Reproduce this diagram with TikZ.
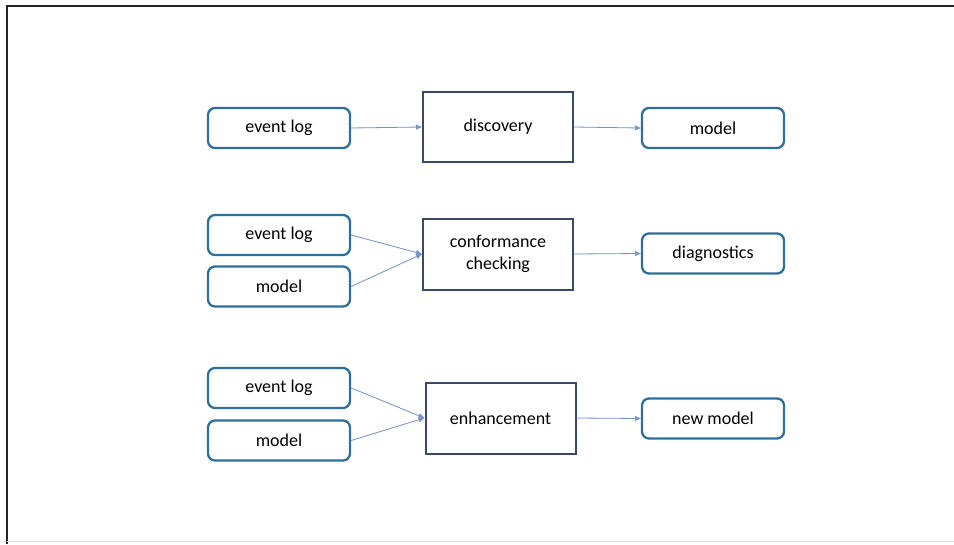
\documentclass[tikz,border=0pt]{standalone}
\usepackage{fontspec}
\setmainfont{Carlito}
\usetikzlibrary{arrows.meta,positioning}
\definecolor{edgeblue}{RGB}{47,111,154}
\definecolor{procgray}{RGB}{59,72,104}
\definecolor{flowblue}{RGB}{120,148,200}

\tikzset{
  databox/.style={draw=edgeblue, line width=2.3pt, rounded corners=7pt, minimum width=142pt, minimum height=40pt, inner sep=0pt, font=\fontsize{18}{22}\selectfont},
  procbox/.style={draw=procgray, line width=2pt, minimum width=150pt, minimum height=70pt, inner sep=0pt, align=center, font=\fontsize{18}{22}\selectfont},
  flow/.style={-{Triangle[length=6pt,width=5pt]}, draw=flowblue, fill=flowblue, line width=0.8pt}
}

\begin{document}
\begin{tikzpicture}[x=1pt,y=-1pt]
  \useasboundingbox (0,0) rectangle (954,544);
  % frame
  \draw[black!85, line width=2pt] (7,544) -- (7,6) -- (954,6);
  \draw[black!12, line width=1pt] (7,541) -- (954,541);

  % discovery
  \node[databox] (log1) at (279,128) {event log};
  \node[procbox] (disc) at (498,127) {discovery};
  \node[databox] (mod1) at (713,128) {model};
  \draw[flow] (log1.east) -- (disc.west);
  \draw[flow] (disc.east) -- (mod1.west);

  % conformance checking
  \node[databox] (log2) at (279,235) {event log};
  \node[databox] (mod2) at (279,286.5) {model};
  \node[procbox, minimum height=71pt] (conf) at (498,254) {conformance\\checking};
  \node[databox] (diag) at (713,253.5) {diagnostics};
  \draw[flow] (log2.east) -- (conf.west);
  \draw[flow] (mod2.east) -- (conf.west);
  \draw[flow] (conf.east) -- (diag.west);

  % enhancement
  \node[databox] (log3) at (279,388) {event log};
  \node[databox] (mod3) at (279,440.5) {model};
  \node[procbox, minimum height=71pt] (enh) at (500.5,418) {enhancement};
  \node[databox] (newm) at (713,418.5) {new model};
  \draw[flow] (log3.east) -- (enh.west);
  \draw[flow] (mod3.east) -- (enh.west);
  \draw[flow] (enh.east) -- (newm.west);
\end{tikzpicture}
\end{document}
